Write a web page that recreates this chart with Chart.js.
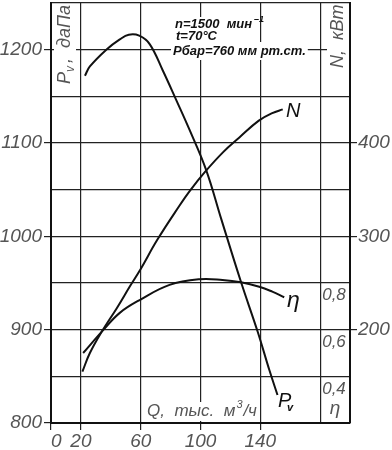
<!DOCTYPE html>
<html lang="ru">
<head>
<meta charset="UTF-8">
<title>Аэродинамическая характеристика вентилятора</title>
<script src="https://cdn.jsdelivr.net/npm/chart.js"></script>
<style>
    html, body {
        margin: 0;
        padding: 0;
        background: #fff;
    }
    #wrap {
        width: 392px;
        height: 450px;
    }
</style>
</head>
<body>
<div id="wrap"><canvas id="chart" width="392" height="450"></canvas></div>
<script>
    // Pv, даПа (left axis)
    const qPv = [22.7, 26, 37, 46, 52, 59, 66, 74.7, 83.8, 92.7, 103.8, 113.8, 127.1, 138.2, 146, 151.5];
    const pvValues = [1172, 1182, 1200, 1211, 1216, 1215, 1206, 1178, 1146, 1114, 1071, 1019, 951, 898, 857, 830];

    // N, кВт (right axis)
    const qN = [21, 26, 34, 44, 53, 60, 71, 86, 93, 103, 115, 126, 139, 148, 155];
    const nValues = [155, 175, 198, 223, 247, 265, 296, 333, 349, 369, 390, 406, 424, 432, 436];

    // КПД η
    const qEta = [21.5, 34.9, 46, 59.3, 79.3, 99.3, 114.7, 127.1, 139.3, 148, 156];
    const etaValues = [0.50, 0.598, 0.672, 0.727, 0.792, 0.816, 0.813, 0.803, 0.784, 0.763, 0.739];

    const qTicks = [0, 20, 60, 100, 140, 180, 200];
    const qTickLabels = {0: '\u20070', 20: '20', 60: '60', 100: '100', 140: '140'};
    const pvTicks = [800, 850, 900, 950, 1000, 1050, 1100, 1150, 1200, 1250];
    const pvTickLabels = [800, 900, 1000, 1100, 1200];
    const nTicks = [200, 300, 400];
    const etaTicks = [0.4, 0.6, 0.8];

    const FONT = 'Liberation Sans';
    const GRAY = '#555';
    const INK = '#111';

    function boxed(ctx, text, x, y, font, color) {
        ctx.font = font;
        ctx.textAlign = 'left';
        ctx.textBaseline = 'alphabetic';
        const m = ctx.measureText(text);
        ctx.fillStyle = '#fff';
        ctx.fillRect(x - 2, y - m.actualBoundingBoxAscent - 2, m.width + 4,
            m.actualBoundingBoxAscent + m.actualBoundingBoxDescent + 4);
        ctx.fillStyle = color;
        ctx.fillText(text, x, y);
        return m.width;
    }

    const textPlugin = {
        id: 'chartText',
        beforeDatasetsDraw(chart) {
            const ctx = chart.ctx;
            const yEta = chart.scales.yEta;
            ctx.save();

            // шапка
            const hf = 'bold italic 13px ' + FONT;
            const w1 = boxed(ctx, 'n=1500  мин', 175, 28, hf, INK);
            ctx.font = 'bold italic 9px ' + FONT;
            ctx.fillText('\u20131', 175 + w1 + 2, 22);
            boxed(ctx, 't=70°C', 176, 40, hf, INK);
            boxed(ctx, 'Pбар=760 мм рт.ст.', 173, 55, hf, INK);

            // подпись оси Pv
            ctx.save();
            ctx.translate(70, 84);
            ctx.rotate(-Math.PI / 2);
            ctx.fillStyle = '#fff';
            ctx.fillRect(-2, -16, 78, 22);
            ctx.fillStyle = GRAY;
            ctx.font = 'italic 18px ' + FONT;
            ctx.fillText('P', 0, 0);
            ctx.font = 'italic 12px ' + FONT;
            ctx.fillText('v', 12, 4);
            ctx.font = 'italic 18px ' + FONT;
            ctx.fillText(',  даПа', 21, 0);
            ctx.restore();

            // подпись оси N
            ctx.save();
            ctx.translate(343, 68);
            ctx.rotate(-Math.PI / 2);
            ctx.fillStyle = '#fff';
            ctx.fillRect(-2, -16, 58, 22);
            ctx.fillStyle = GRAY;
            ctx.font = 'italic 18px ' + FONT;
            ctx.fillText('N,  кВт', 0, 0);
            ctx.restore();

            // подпись оси Q
            boxed(ctx, 'Q,  тыс.  м', 147, 416, 'italic 17px ' + FONT, GRAY);
            ctx.font = 'italic 17px ' + FONT;
            const wq = ctx.measureText('Q,  тыс.  м').width;
            ctx.font = 'italic 11px ' + FONT;
            ctx.fillText('3', 147 + wq + 1, 408);
            ctx.font = 'italic 17px ' + FONT;
            ctx.fillText('/ч', 147 + wq + 8, 416);

            // шкала η
            ctx.fillStyle = GRAY;
            ctx.font = 'italic 17px ' + FONT;
            ctx.textAlign = 'center';
            ctx.textBaseline = 'top';
            etaTicks.forEach(v => {
                ctx.fillText(String(v).replace('.', ','), 334, yEta.getPixelForValue(v) + 4);
            });
            ctx.font = 'italic 19px ' + FONT;
            ctx.fillText('η', 335, 399);

            // подписи кривых
            ctx.fillStyle = INK;
            ctx.textAlign = 'left';
            ctx.textBaseline = 'alphabetic';
            ctx.font = 'italic 20px ' + FONT;
            ctx.fillText('N', 286, 117);
            ctx.font = 'italic 23px ' + FONT;
            ctx.fillText('η', 287, 307);
            ctx.font = 'italic 20px ' + FONT;
            ctx.fillText('P', 278, 407);
            ctx.font = 'bold italic 11px ' + FONT;
            ctx.fillText('v', 287, 411);
            ctx.restore();
        }
    };

    const tickFont = {family: FONT, size: 19, style: 'italic'};
    const gridColor = '#222';

    function noPadY(s, w) {
        s.width = w;
        s.paddingTop = 0;
        s.paddingBottom = 0;
    }

    const ctx = document.getElementById('chart').getContext('2d');
    new Chart(ctx, {
        type: 'line',
        data: {
            datasets: [
                {
                    label: 'Pv',
                    data: qPv.map((q, i) => ({x: q, y: pvValues[i]})),
                    yAxisID: 'y'
                },
                {
                    label: 'N',
                    data: qN.map((q, i) => ({x: q, y: nValues[i]})),
                    yAxisID: 'yN'
                },
                {
                    label: 'η',
                    data: qEta.map((q, i) => ({x: q, y: etaValues[i]})),
                    yAxisID: 'yEta'
                }
            ]
        },
        options: {
            responsive: false,
            animation: false,
            layout: {padding: {top: 3, left: 0, right: 0, bottom: 0}},
            plugins: {
                legend: {display: false},
                tooltip: {enabled: false}
            },
            elements: {
                point: {radius: 0},
                line: {
                    borderColor: INK,
                    borderWidth: 2,
                    tension: 0.4,
                    fill: false
                }
            },
            scales: {
                x: {
                    type: 'linear',
                    min: 0,
                    max: 200,
                    afterBuildTicks: s => { s.ticks = qTicks.map(v => ({value: v})); },
                    afterFit: s => { s.height = 27; s.paddingLeft = 0; s.paddingRight = 0; },
                    ticks: {
                        callback: v => qTickLabels[v] ?? '',
                        autoSkip: false,
                        maxRotation: 0,
                        padding: 0,
                        color: GRAY,
                        font: tickFont
                    },
                    grid: {
                        color: gridColor,
                        lineWidth: 1.2,
                        tickLength: 7,
                        tickColor: c => (c.tick && qTickLabels[c.tick.value] !== undefined) ? gridColor : 'rgba(0,0,0,0)'
                    },
                    border: {color: INK, width: 2}
                },
                y: {
                    position: 'left',
                    min: 800,
                    max: 1250,
                    afterBuildTicks: s => { s.ticks = pvTicks.map(v => ({value: v})); },
                    afterFit: s => noPadY(s, 51),
                    ticks: {
                        callback: v => pvTickLabels.includes(v) ? String(v) : '',
                        autoSkip: false,
                        padding: 2,
                        color: GRAY,
                        font: tickFont
                    },
                    grid: {
                        color: gridColor,
                        lineWidth: 1.2,
                        tickLength: 7,
                        tickColor: c => (c.tick && pvTickLabels.includes(c.tick.value)) ? gridColor : 'rgba(0,0,0,0)'
                    },
                    border: {color: INK, width: 2}
                },
                yN: {
                    position: 'right',
                    min: 100,
                    max: 550,
                    afterBuildTicks: s => { s.ticks = nTicks.map(v => ({value: v})); },
                    afterFit: s => noPadY(s, 42),
                    ticks: {
                        autoSkip: false,
                        padding: 1,
                        color: GRAY,
                        font: tickFont
                    },
                    grid: {
                        drawOnChartArea: false,
                        color: gridColor,
                        lineWidth: 1.2,
                        tickLength: 7
                    },
                    border: {color: INK, width: 2}
                },
                yEta: {
                    display: false,
                    min: 0.2,
                    max: 2.0
                }
            }
        },
        plugins: [textPlugin]
    });
</script>
</body>
</html>
